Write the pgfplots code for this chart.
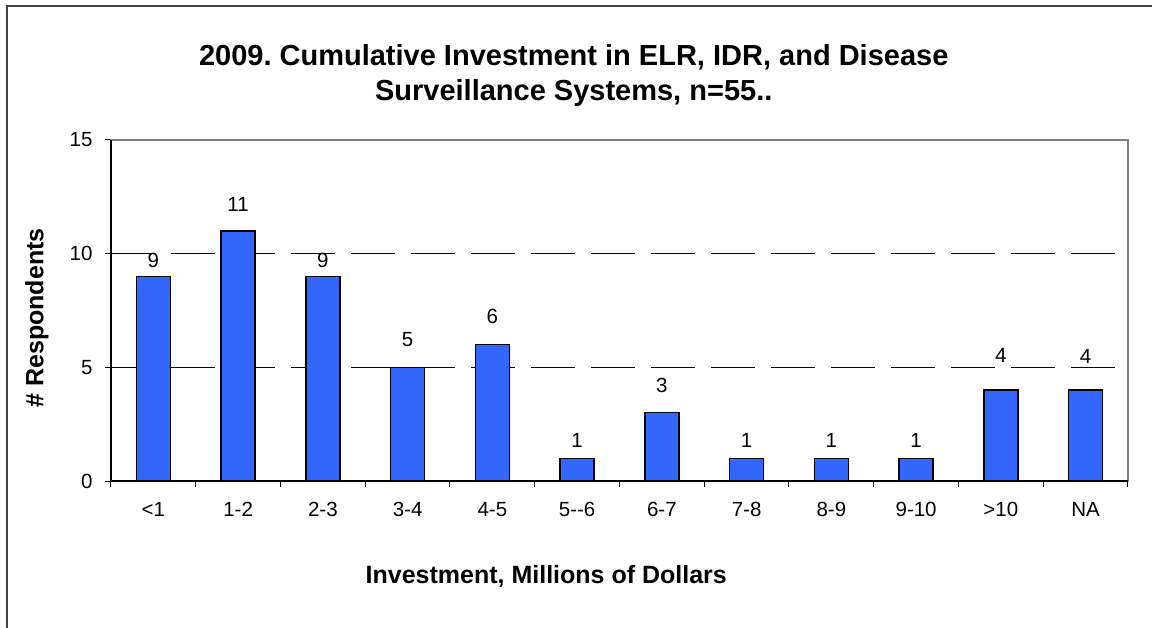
\documentclass[border=0pt]{standalone}
\usepackage{fontspec}
\setmainfont{Liberation Sans}
\usepackage{pgfplots}
\pgfplotsset{compat=1.18}
\definecolor{barblue}{HTML}{3366FF}
\frenchspacing
\begin{document}
\begin{tikzpicture}[x=1pt,y=1pt]
\useasboundingbox (0,0) rectangle (1152,-628);
\fill[white] (0,0) rectangle (1152,-628);
\draw[line width=2pt, black!75] (7,-629) -- (7,-6) -- (1153,-6);
\begin{axis}[
  at={(111pt,-481pt)}, anchor=south west,
  scale only axis, width=1017pt, height=341pt,
  xmin=-0.5, xmax=11.5, ymin=0, ymax=15,
  ytick={0,5,10,15},
  xtick={0,...,11},
  xticklabels={{<1},{1-2},{2-3},{3-4},{4-5},{5-{}-6},{6-7},{7-8},{8-9},{9-10},{>10},{NA}},
  major tick length=6pt,
  x tick style={draw=none},
  y tick style={black, line width=1pt},
  extra x ticks={-0.5,0.5,...,11.5},
  extra x tick labels={},
  extra x tick style={x tick style={draw=black, line width=1pt}},
  extra y ticks={5,10},
  extra y tick labels={},
  extra y tick style={grid=major, y tick style={draw=none}, major grid style={black, line width=1pt, dash pattern=on 44pt off 16pt}},
  tick align=outside, tick pos=left,
  axis line style={draw=gray, line width=1.5pt},
  /pgf/number format/assume math mode=true,
  tick label style={font=\fontsize{20.5}{24}\selectfont},
  yticklabel style={xshift=-9pt},
  xticklabel style={yshift=-12pt},
  xlabel={Investment, Millions of Dollars},
  xlabel style={at={(rel axis cs:0.428,-0.279)}, anchor=center, font=\bfseries\fontsize{25}{30}\selectfont},
  ylabel={\# Respondents},
  ylabel style={at={(rel axis cs:-0.0728,0.478)}, anchor=center, font=\bfseries\fontsize{25}{30}\selectfont},
  title={2009. Cumulative Investment in ELR, IDR, and Disease\\Surveillance Systems, n=55..},
  title style={at={(rel axis cs:0.455,1.1716)}, anchor=center, align=center, font=\bfseries\fontsize{29}{35}\selectfont},
  clip=false,
  after end axis/.code={\draw[black, line width=1.3pt] (rel axis cs:0,1) -- (rel axis cs:0,0) -- (rel axis cs:1,0);},
]
\addplot[ybar, bar width=34pt, fill=barblue, draw=black, line width=1.3pt,
  visualization depends on={\thisrow{off} \as \myoff},
  nodes near coords,
  every node near coord/.append style={font=\fontsize{20.5}{24}\selectfont, anchor=south, inner sep=0pt, yshift=\myoff pt, /pgf/number format/assume math mode=true}]
  table {
x y off
0 9 8
1 11 19
2 9 8
3 5 20
4 6 20
5 1 10
6 3 19
7 1 10
8 1 10
9 1 10
10 4 27
11 4 26
};
\end{axis}
\end{tikzpicture}
\end{document}
